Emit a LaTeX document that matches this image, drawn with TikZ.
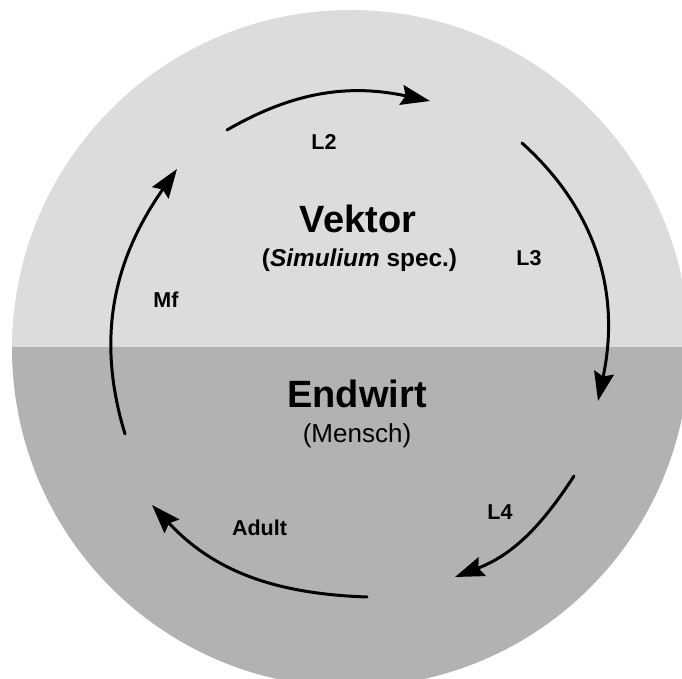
\documentclass[tikz,border=0pt]{standalone}
\usepackage{fontspec}
\setmainfont{Liberation Sans}
\usetikzlibrary{arrows.meta}
\begin{document}
\begin{tikzpicture}[x=1pt,y=1pt,
  cyclearrow/.style={line width=3pt, line cap=round,
    -{Stealth[length=29pt,width=20pt,inset=4pt]}},
  stagelabel/.style={inner sep=0pt, font=\fontsize{21.5}{24}\selectfont\bfseries},
  hosttitle/.style={inner sep=0pt, font=\fontsize{38}{42}\selectfont\bfseries},
  hostsub/.style={inner sep=0pt}]
\useasboundingbox (0,0) rectangle (682,679);
\definecolor{vectorgray}{HTML}{DCDCDC}
\definecolor{hostgray}{HTML}{B2B2B2}

% two-tone disc: vector half above, host half below
\begin{scope}
  \clip (0,0) rectangle (682,679);
  \clip (350.5,330.5) circle[radius=338.5];
  \fill[vectorgray] (0,332) rectangle (700,700);
  \fill[hostgray] (0,-20) rectangle (700,332);
\end{scope}

% host titles
\node[hosttitle] (vektor) at (358,460.5) {Vektor};
\node[hostsub, font=\fontsize{24.4}{28}\selectfont\bfseries] (simulium) at (359.5,419)
  {(\textit{Simulium} spec.)};
\node[hosttitle] (endwirt) at (357,285.4) {Endwirt};
\node[hostsub, font=\fontsize{26}{30}\selectfont] (mensch) at (357,243) {(Mensch)};

% stage labels
\node[stagelabel] (l2) at (324,537) {L2};
\node[stagelabel] (l3) at (529,421) {L3};
\node[stagelabel] (l4) at (500,167) {L4};
\node[stagelabel] (adult) at (259.5,151) {Adult};
\node[stagelabel] (mf) at (166,379) {Mf};

% arc end points
\coordinate (a1s) at (227,549);
\coordinate (a1e) at (430,578);
\coordinate (a2s) at (522,536);
\coordinate (a2e) at (598,278);
\coordinate (a3s) at (574,203);
\coordinate (a3e) at (455,102);
\coordinate (a4s) at (367,82);
\coordinate (a4e) at (152,174);
\coordinate (a5s) at (125,245);
\coordinate (a5e) at (177,510);

% life cycle arrows
\draw[cyclearrow] (a1s) to[out=30,in=168] (a1e);
\draw[cyclearrow] (a2s) to[out=-42,in=78] (a2e);
\draw[cyclearrow] (a3s) to[out=-123,in=21] (a3e);
\draw[cyclearrow] (a4s) to[out=178,in=-47] (a4e);
\draw[cyclearrow] (a5s) to[out=107,in=235] (a5e);
\end{tikzpicture}
\end{document}
